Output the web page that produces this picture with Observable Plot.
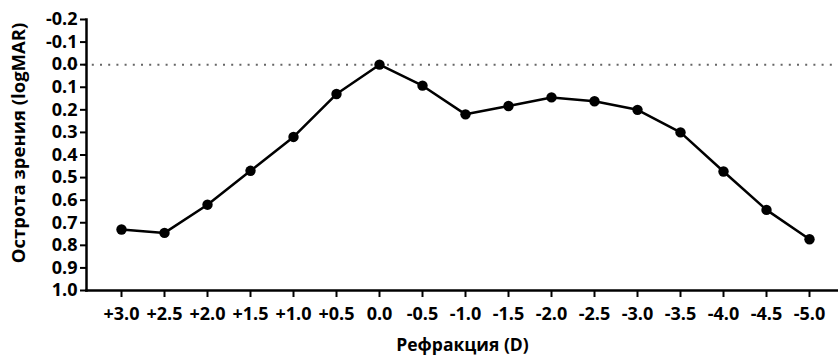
<!DOCTYPE html>
<html><head><meta charset="utf-8">
<script src="https://cdn.jsdelivr.net/npm/d3@7"></script>
<script src="https://cdn.jsdelivr.net/npm/@observablehq/plot@0.6"></script>
<style>body{margin:0;background:#fff}</style>
</head><body><div id="chart"></div>
<script>
const refraction = ["+3.0","+2.5","+2.0","+1.5","+1.0","+0.5","0.0","-0.5","-1.0","-1.5","-2.0","-2.5","-3.0","-3.5","-4.0","-4.5","-5.0"];
const acuity = [0.73,0.745,0.62,0.47,0.32,0.13,0.0,0.093,0.22,0.183,0.145,0.162,0.20,0.30,0.473,0.643,0.773];
const yTicks = [-0.2,-0.1,0.0,0.1,0.2,0.3,0.4,0.5,0.6,0.7,0.8,0.9,1.0];
const yTickLabels = ["-0.2","-0.1","0.0","0.1","0.2","0.3","0.4","0.5","0.6","0.7","0.8","0.9","1.0"];
const xTitle = "Рефракция (D)";
const yTitle = "Острота зрения (logMAR)";

const data = refraction.map((r, i) => ({r, v: acuity[i]}));

const chart = Plot.plot({
  width: 838, height: 356,
  marginLeft: 86, marginRight: 0, marginTop: 19, marginBottom: 66,
  insetLeft: 27, insetRight: 22,
  style: {fontFamily: "'Open Sans', sans-serif", fontWeight: "bold", fontSize: "18px", color: "#000", background: "#fff"},
  x: {type: "point", domain: refraction, padding: 0},
  y: {domain: [-0.2, 1.0], reverse: true},
  marks: [
    Plot.ruleY([0], {stroke: "#666", strokeWidth: 2, strokeDasharray: "2,6.2", insetLeft: -27, insetRight: -22}),
    Plot.axisY(yTicks, {tickFormat: d => yTickLabels[yTicks.indexOf(d)], tickSize: 6, tickPadding: 3, strokeWidth: 2, label: null, fontSize: 18}),
    Plot.axisX({tickSize: 7, tickPadding: 10, strokeWidth: 2, label: null, fontSize: 18}),
    Plot.frame({anchor: "left", strokeWidth: 2.5}),
    Plot.frame({anchor: "bottom", strokeWidth: 2.5}),
    Plot.line(data, {x: "r", y: "v", stroke: "#000", strokeWidth: 2.5}),
    Plot.dot(data, {x: "r", y: "v", r: 5.2, fill: "#000"}),
    Plot.text([xTitle], {frameAnchor: "bottom", dy: 55, textAnchor: "middle", lineAnchor: "middle", fontSize: 17.5}),
    Plot.text([yTitle], {frameAnchor: "left", dx: -67, dy: -12, rotate: -90, textAnchor: "middle", lineAnchor: "middle", fontSize: 18.5})
  ]
});
document.getElementById("chart").appendChild(chart);
</script>
</body></html>
